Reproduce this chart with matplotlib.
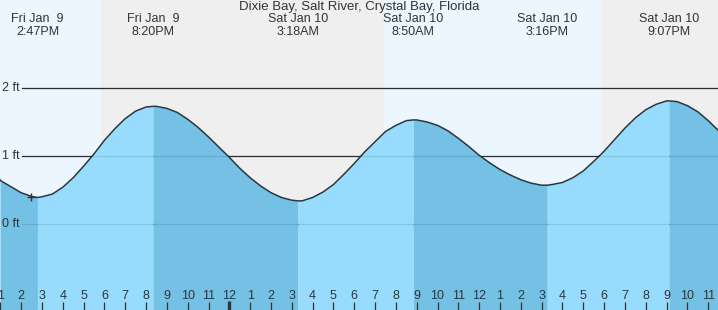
"""
Tide chart for Dixie Bay, Salt River, Crystal Bay, Florida
"""
import numpy as np
from matplotlib import pyplot as plt

plt.rcParams["font.family"] = ["Liberation Sans", "DejaVu Sans"]

TITLE = "Dixie Bay, Salt River, Crystal Bay, Florida"

# Half-hourly readings, hours counted from midnight at the start of Fri Jan 9
HOURS = [12.985, 13, 13.5, 14, 14.5,
         15, 15.5, 16, 16.5, 17, 17.5, 18, 18.5, 19, 19.5, 20,
         20.5, 21, 21.5, 22, 22.5, 23, 23.5, 24, 24.5, 25, 25.5, 26, 26.5, 27,
         27.5, 28, 28.5, 29, 29.5, 30, 30.5, 31, 31.5, 32, 32.5,
         33, 33.5, 34, 34.5, 35, 35.5, 36, 36.5, 37, 37.5, 38, 38.5, 39,
         39.5, 40, 40.5, 41, 41.5, 42, 42.5, 43, 43.5, 44, 44.5, 45,
         45.5, 46, 46.5, 47, 47.47]
HEIGHTS = [0.65, 0.64, 0.55, 0.46, 0.405,
           0.40, 0.44, 0.54, 0.68, 0.85, 1.03, 1.23, 1.40, 1.55, 1.66, 1.72,
           1.73, 1.70, 1.64, 1.54, 1.42, 1.28, 1.13, 0.98, 0.82, 0.68, 0.56,
           0.46, 0.39, 0.35,
           0.34, 0.39, 0.47, 0.58, 0.73, 0.89, 1.06, 1.21, 1.36, 1.45, 1.52,
           1.53, 1.50, 1.45, 1.37, 1.26, 1.14, 1.01, 0.90, 0.80, 0.72, 0.65,
           0.60, 0.57,
           0.58, 0.61, 0.68, 0.78, 0.92, 1.07, 1.24, 1.41, 1.56, 1.68, 1.76,
           1.81,
           1.80, 1.74, 1.65, 1.52, 1.38]

# High / low tides
EXT_HOURS = [14.783, 20.333, 27.3, 32.833, 39.267, 45.117]
EXT_HEIGHTS = [0.39, 1.73, 0.34, 1.53, 0.57, 1.81]
EXT_DAYS = ["Fri Jan  9", "Fri Jan  9", "Sat Jan 10", "Sat Jan 10",
            "Sat Jan 10", "Sat Jan 10"]
EXT_TIMES = ["2:47PM", "8:20PM", "3:18AM", "8:50AM", "3:16PM", "9:07PM"]

# Sunset / sunrise
SUNSET_1 = 17.85
SUNRISE = 31.44
SUNSET_2 = 41.87

NOW_HOUR = 14.49
NOW_HEIGHT = 0.40

FT_LINES = [0, 1, 2]
TICK_HOURS = list(range(13, 48))

DAY_BG = "#ebf6ff"
NIGHT_BG = "#efefef"
RISE_FILL = "#97dcfc"
FALL_FILL = "#74c1e5"
TEXT = "#333333"

X0, X1 = 12.985, 47.47
Y0, Y1 = -1.265, 3.294

fig = plt.figure(figsize=(7.18, 3.10), dpi=100)
ax = fig.add_axes([0, 0, 1, 1])
ax.set_xlim(X0, X1)
ax.set_ylim(Y0, Y1)
ax.axis("off")

# Day / night background
ax.axvspan(X0, SUNSET_1, color=DAY_BG, lw=0, zorder=0)
ax.axvspan(SUNSET_1, SUNRISE, color=NIGHT_BG, lw=0, zorder=0)
ax.axvspan(SUNRISE, SUNSET_2, color=DAY_BG, lw=0, zorder=0)
ax.axvspan(SUNSET_2, X1, color=NIGHT_BG, lw=0, zorder=0)

# Merge readings with the extremes so the curve passes through them
t = np.array(HOURS + EXT_HOURS)
h = np.array(HEIGHTS + EXT_HEIGHTS)
order = np.argsort(t)
t, h = t[order], h[order]

# Fill each rising / falling stretch
bounds = [X0] + EXT_HOURS + [X1]
for a, b in zip(bounds[:-1], bounds[1:]):
    m = (t >= a) & (t <= b)
    seg_t, seg_h = t[m], h[m]
    color = RISE_FILL if seg_h[-1] > seg_h[0] else FALL_FILL
    ax.fill_between(seg_t, seg_h, Y0, color=color, lw=0, zorder=2)

# Foot lines: dark above the water, faint through it
x_start = 22 / 718
for v in FT_LINES:
    ax.axhline(v, xmin=x_start, color="#333333", lw=0.9, zorder=1)
    ax.axhline(v, xmin=x_start, color="black", alpha=0.1, lw=0.9, zorder=3)
    ax.text(0.003, v, "%d ft" % v, transform=ax.get_yaxis_transform(),
            ha="left", va="center", fontsize=9, color=TEXT, zorder=4)

ax.plot(t, h, color="#333333", lw=1.1, zorder=4)
ax.plot([NOW_HOUR], [NOW_HEIGHT], "+", color="#333333", ms=6, mew=1, zorder=5)

# Extreme labels and title
xt = ax.get_xaxis_transform()
for x, day, tm in zip(EXT_HOURS, EXT_DAYS, EXT_TIMES):
    ax.text(x, 1 - 19 / 310, day, transform=xt, ha="center", va="center",
            fontsize=9, color=TEXT, zorder=5)
    ax.text(x, 1 - 32 / 310, tm, transform=xt, ha="center", va="center",
            fontsize=9, color=TEXT, zorder=5)
ax.text(0.5, 1 - 7 / 310, TITLE, transform=ax.transAxes, ha="center",
        va="center", fontsize=9.5, color=TEXT, zorder=5)

# Hour ticks along the bottom
for hr in TICK_HOURS:
    label = (hr - 1) % 12 + 1
    ax.text(hr, 1 - 296 / 310, str(label), transform=xt, ha="center",
            va="center", fontsize=9, color=TEXT, zorder=5)
    if hr % 24 == 0:
        ax.plot([hr, hr], [0, 9 / 310], transform=xt, color="#333333",
                lw=2.4, solid_capstyle="butt", zorder=5)
    else:
        ax.plot([hr, hr], [0, 8 / 310], transform=xt, color="#333333",
                lw=0.9, solid_capstyle="butt", zorder=5)

fig.savefig("out.png", dpi=100)
